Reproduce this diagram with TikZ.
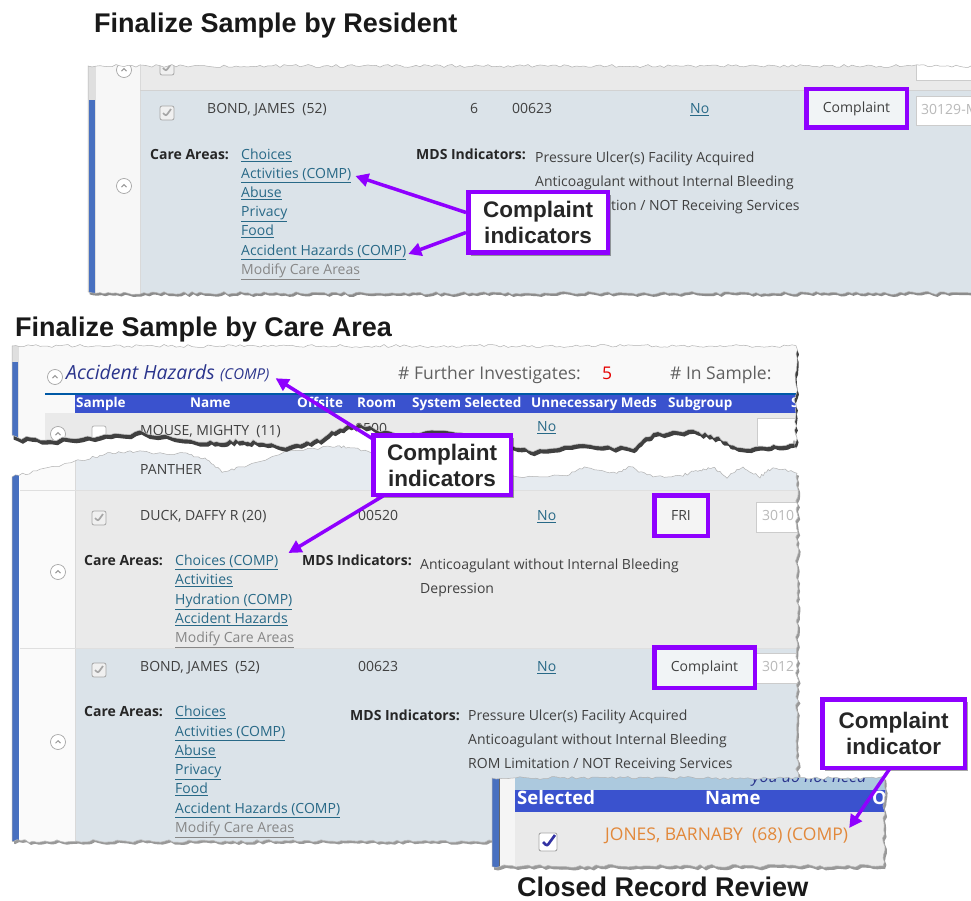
\documentclass[tikz,border=0pt]{standalone}
\usepackage{fontspec}
\newfontfamily\ui{Open Sans}
\newfontfamily\ar{Liberation Sans}
\usetikzlibrary{arrows.meta,shadows,calc}
\definecolor{purp}{RGB}{143,0,255}
\definecolor{linkc}{RGB}{40,105,135}
\definecolor{txtc}{RGB}{64,64,64}
\definecolor{rowblue}{RGB}{219,227,233}
\definecolor{rowgray}{RGB}{234,234,234}
\definecolor{hdrblue}{RGB}{58,82,206}
\definecolor{leftblue}{RGB}{72,112,192}
\definecolor{orng}{RGB}{226,136,58}
\definecolor{navy}{RGB}{42,52,140}
\definecolor{modg}{RGB}{135,135,135}
\definecolor{ltblue}{RGB}{172,201,222}
\tikzset{
 uit/.style={inner sep=0pt, anchor=west, text height=10pt, text depth=3pt, text=txtc, font=\ui\fontsize{14}{16}\selectfont},
 uib/.style={uit, text=black!85, font=\ui\bfseries\fontsize{14}{16}\selectfont},
 uil/.style={uit, text=linkc},
 uim/.style={uit, text=modg},
 uih/.style={uit, text=white, font=\ui\bfseries\fontsize{13.5}{15}\selectfont},
 ttl/.style={inner sep=0pt, anchor=base west, text=black!90, font=\ar\bfseries\fontsize{27}{30}\selectfont},
 cout/.style={draw=purp, line width=4.5pt, fill=white, align=center, inner sep=0pt, font=\ar\bfseries\fontsize{22.5}{26}\selectfont, text=black!85, drop shadow={shadow xshift=3pt, shadow yshift=-3pt, opacity=0.35, fill=black}},
 hlbox/.style={draw=purp, line width=4.5pt, inner sep=0pt, text=txtc, font=\ui\fontsize{14}{16}\selectfont, drop shadow={shadow xshift=2pt, shadow yshift=-2pt, opacity=0.3, fill=black}},
 parrow/.style={draw=purp, line width=3.5pt, -{Triangle[length=13pt,width=13pt]}},
 chk/.style={draw=gray!70, fill=gray!12, rounded corners=2pt, minimum size=14pt, inner sep=0pt, line width=0.8pt,
   path picture={\draw[gray!70, line width=1.7pt] ($(path picture bounding box.center)+(-4,0)$) -- ++(3,3) -- ++(5,-7);}},
 chke/.style={draw=gray!60, fill=white, rounded corners=2pt, minimum size=14pt, inner sep=0pt, line width=0.8pt},
 chkb/.style={draw=gray!70, fill=white, rounded corners=2pt, minimum size=18pt, inner sep=0pt, line width=0.9pt,
   path picture={\draw[blue!55!black!80, line width=2.6pt] ($(path picture bounding box.center)+(-5,0)$) -- ++(4,4) -- ++(8,-11);}},
 icn/.style={circle, draw=gray!70, fill=white, minimum size=15pt, inner sep=0pt, line width=0.7pt,
   path picture={\draw[gray!80, line width=1pt] ($(path picture bounding box.center)+(-2.5,1.2)$) -- ++(2.5,-2.5) -- ++(2.5,2.5);}},
 inb/.style={draw=gray!40, fill=white, inner sep=0pt, anchor=north west},
}
\begin{document}
\begin{tikzpicture}[x=1pt,y=-1pt]
\pgfmathsetseed{4242}
\useasboundingbox (0,0) rectangle (971,901);
\fill[white] (0,0) rectangle (971,901);

% ---------------- titles
\node[ttl] (title1) at (94,33) {Finalize Sample by Resident};
\node[ttl] (title2) at (15,336) {Finalize Sample by Care Area};
\node[ttl] (title3) at (517,896) {Closed Record Review};

% ================= PANEL 1
\path[save path=\pA] (88,66)
  \foreach \i in {1,...,221} { -- ({88+\i*4}, {66+1.5*rand}) }
  -- (972,293)
  \foreach \i in {1,...,221} { -- ({972-\i*4}, {293+1.5*rand}) }
  -- cycle;
\begin{scope}[transform canvas={shift={(1.5pt,-2.5pt)}}]
  \fill[black!45, use path=\pA];
\end{scope}
\begin{scope}
  \clip[use path=\pA];
  \fill[rowgray] (80,50) rectangle (980,90);
  \fill[rowblue] (140,90) rectangle (980,300);
  \fill[gray!6] (95,50) rectangle (140,300);
  \draw[gray!30] (140,50) -- (140,300);
  \fill[gray!25] (88,50) rectangle (96,300);
  \fill[leftblue] (89,100) rectangle (95,300);
  \draw[gray!35] (140,90) -- (980,90);
  \node[icn] (p1i0) at (124,70) {};
  \node[chk] (p1k0) at (167,68) {};
  \node[inb, minimum width=62pt, minimum height=26pt] (p1in0) at (916,54) {};
  \node[icn] (p1i1) at (124,186) {};
  \node[chk] (p1k1) at (167,113) {};
  \node[uit] (p1name) at (207,110) {BOND, JAMES\ \ (52)};
  \node[uit] (p1six) at (470,110) {6};
  \node[uit] (p1room) at (512,110) {00623};
  \node[uil] (p1no) at (690,110) {\underline{No}};
  \node[inb, minimum width=62pt, minimum height=29pt] (p1in1) at (916,96) {};
  \node[uit, text=gray!55] (p1in1t) at (921,111) {30129-M};
  \node[uib] (p1ca) at (150,156) {Care Areas:};
  \node[uil] (p1l1) at (241,156) {\underline{Choices}};
  \node[uil] (p1l2) at (241,175) {\underline{Activities (COMP)}};
  \node[uil] (p1l3) at (241,194) {\underline{Abuse}};
  \node[uil] (p1l4) at (241,213) {\underline{Privacy}};
  \node[uil] (p1l5) at (241,232) {\underline{Food}};
  \node[uil] (p1l6) at (241,252) {\underline{Accident Hazards (COMP)}};
  \node[uim] (p1l7) at (241,271) {\underline{Modify Care Areas}};
  \node[uib] (p1mds) at (416,156) {MDS Indicators:};
  \node[uit] (p1m1) at (535,159) {Pressure Ulcer(s) Facility Acquired};
  \node[uit] (p1m2) at (535,183) {Anticoagulant without Internal Bleeding};
  \node[uit] (p1m3) at (535,207) {ROM Limitation / NOT Receiving Services};
\end{scope}
\draw[gray!60, line width=0.5pt, use path=\pA];
\node[hlbox, fill=rowblue!40!white, minimum width=100.5pt, minimum height=38.5pt] (p1comp) at (856.5,108.5) {Complaint};

\node[cout, minimum width=139.5pt, minimum height=60.5pt] (c1) at (538,222.5) {Complaint\\indicators};
\draw[parrow] ($(c1.west)+(0,-10)$) -- ($(p1l2.east)+(4,1)$);
\draw[parrow] ($(c1.west)+(0,10)$) -- ($(p1l6.east)+(2,2)$);

% ================= PANEL 2b (lower piece)
\path[save path=\pC] (12,477)
  \foreach \px/\py [remember=\px as \qx (initially 12), remember=\py as \qy (initially 477)] in
   {40/470,90/458,110/453,133/452,187/454,205/458,222/472,238/468,293/450,333/447,350/447,380/455,420/465,470/472,517/477,567/475,587/467,617/473,630/467,653/477,683/475,700/470,713/467,727/477,743/467,760/477,773/467,797/473}
   { \foreach \k in {1,...,8} { -- ({\qx+(\px-\qx)*\k/8}, {\qy+(\py-\qy)*\k/8+1.4*rand}) } }
  \foreach \i in {1,...,92} { -- ({797+1.6*rand}, {473+\i*4}) }
  \foreach \i in {1,...,196} { -- ({797-\i*4}, {841+1.5*rand}) }
  -- (12,841) -- cycle;
\begin{scope}[transform canvas={shift={(2pt,-2.5pt)}}]
  \fill[black!40, use path=\pC];
\end{scope}
\begin{scope}
  \clip[use path=\pC];
  \fill[white] (0,430) rectangle (810,850);
  \fill[gray!4] (20,430) rectangle (75,850);
  \fill[rowblue!70!white] (75,430) rectangle (810,490);
  \fill[rowgray] (75,490) rectangle (810,648);
  \fill[rowblue] (75,648) rectangle (810,850);
  \draw[gray!30] (75,430) -- (75,850);
  \draw[gray!25] (20,490) -- (810,490);
  \draw[gray!25] (20,648) -- (810,648);
  \fill[leftblue] (12,430) rectangle (19,850);
  \node[uit] (p2pan) at (140,471) {PANTHER};
  % DUCK row
  \node[chk] (p2k1) at (99,518) {};
  \node[uit] (p2n1) at (140,517) {DUCK, DAFFY R (20)};
  \node[uit] (p2r1) at (358,517) {00520};
  \node[uil] (p2no1) at (537,517) {\underline{No}};
  \node[inb, minimum width=50pt, minimum height=30pt] (p2in1) at (756,502) {};
  \node[uit, text=gray!55] (p2in1t) at (762,517) {3010};
  \node[icn] (p2i1) at (58,572) {};
  \node[uib] (p2ca1) at (84,562) {Care Areas:};
  \node[uil] (p2a1) at (175,562) {\underline{Choices (COMP)}};
  \node[uil] (p2a2) at (175,581) {\underline{Activities}};
  \node[uil] (p2a3) at (175,601) {\underline{Hydration (COMP)}};
  \node[uil] (p2a4) at (175,620) {\underline{Accident Hazards}};
  \node[uim] (p2a5) at (175,639) {\underline{Modify Care Areas}};
  \node[uib] (p2mds1) at (302,562) {MDS Indicators:};
  \node[uit] (p2m1) at (420,566) {Anticoagulant without Internal Bleeding};
  \node[uit] (p2m2) at (420,590) {Depression};
  % BOND row
  \node[chk] (p2k2) at (99,670) {};
  \node[uit] (p2n2) at (140,668) {BOND, JAMES\ \ (52)};
  \node[uit] (p2r2) at (358,668) {00623};
  \node[uil] (p2no2) at (537,668) {\underline{No}};
  \node[inb, minimum width=50pt, minimum height=30pt] (p2in2) at (756,653) {};
  \node[uit, text=gray!55] (p2in2t) at (762,668) {3012};
  \node[icn] (p2i2) at (58,742) {};
  \node[uib] (p2ca2) at (84,713) {Care Areas:};
  \node[uil] (p2b1) at (175,713) {\underline{Choices}};
  \node[uil] (p2b2) at (175,733) {\underline{Activities (COMP)}};
  \node[uil] (p2b3) at (175,752) {\underline{Abuse}};
  \node[uil] (p2b4) at (175,771) {\underline{Privacy}};
  \node[uil] (p2b5) at (175,790) {\underline{Food}};
  \node[uil] (p2b6) at (175,810) {\underline{Accident Hazards (COMP)}};
  \node[uim] (p2b7) at (175,829) {\underline{Modify Care Areas}};
  \node[uib] (p2mds2) at (350,717) {MDS Indicators:};
  \node[uit] (p2m3) at (468,717) {Pressure Ulcer(s) Facility Acquired};
  \node[uit] (p2m4) at (468,741) {Anticoagulant without Internal Bleeding};
  \node[uit] (p2m5) at (468,765) {ROM Limitation / NOT Receiving Services};
\end{scope}
\draw[gray!60, line width=0.5pt, use path=\pC];
\node[hlbox, fill=rowgray!50!white, minimum width=53.5pt, minimum height=40.5pt] (p2fri) at (681,515.5) {FRI};
\node[hlbox, fill=rowblue!40!white, minimum width=100.5pt, minimum height=40.5pt] (p2comp2) at (704.5,667.5) {Complaint};

% ================= PANEL 2a (upper piece)
\path[save path=\pB] (12,346)
  \foreach \i in {1,...,196} { -- ({12+\i*4}, {346+1.5*rand}) }
  \foreach \i in {1,...,24} { -- ({796+1.5*rand}, {346+\i*4}) }
  \foreach \px/\py [remember=\px as \qx (initially 796), remember=\py as \qy (initially 442)] in
   {793/443,767/447,733/447,717/437,693/430,653/433,633/447,583/445,533/450,500/443,450/430,400/435,360/425,340/427,317/440,290/446,253/441,233/440,207/442,140/432,100/436,50/440,12/437}
   { \foreach \k in {1,...,8} { -- ({\qx+(\px-\qx)*\k/8}, {\qy+(\py-\qy)*\k/8+2*rand}) } }
  -- cycle;
\begin{scope}[transform canvas={shift={(1.5pt,-4.5pt)}}]
  \fill[black!75, use path=\pB];
\end{scope}
\begin{scope}
  \clip[use path=\pB];
  \fill[gray!5] (0,330) rectangle (810,460);
  \fill[gray!25] (12,330) rectangle (19,460);
  \fill[leftblue] (12,362) rectangle (18,460);
  \node[icn] (p2hi) at (55,377) {};
  \node[anchor=west, inner sep=0pt, text height=13pt, text depth=4pt, font=\ui\itshape\fontsize{19.5}{22}\selectfont, text=navy] (p2ah) at (66,375) {Accident Hazards};
  \node[anchor=base west, inner sep=0pt, font=\ui\itshape\fontsize{15}{17}\selectfont, text=navy] (p2comp) at ($(p2ah.base east)+(5,0)$) {(COMP)};
  \node[anchor=west, inner sep=0pt, text height=13pt, text depth=4pt, font=\ui\fontsize{17.5}{20}\selectfont, text=gray!75!black] (p2fi) at (398,375) {\# Further Investigates:};
  \node[anchor=west, inner sep=0pt, text height=13pt, text depth=4pt, font=\ui\fontsize{17.5}{20}\selectfont, text=red!90!black] (p2five) at (602,375) {5};
  \node[anchor=west, inner sep=0pt, text height=13pt, text depth=4pt, font=\ui\fontsize{17.5}{20}\selectfont, text=gray!75!black] (p2is) at (670,375) {\# In Sample:};
  \draw[teal!70!blue, line width=1.2pt] (45,394) -- (810,394);
  \fill[hdrblue] (75,395) rectangle (810,413);
  \node[uih] (h1) at (76,404) {Sample};
  \node[uih] (h2) at (190,404) {Name};
  \node[uih] (h3) at (297,404) {Offsite};
  \node[uih] (h4) at (357,404) {Room};
  \node[uih] (h5) at (412,404) {System Selected};
  \node[uih] (h6) at (531,404) {Unnecessary Meds};
  \node[uih] (h7) at (668,404) {Subgroup};
  \node[uih] (h8) at (791,404) {S};
  \fill[rowgray] (45,413) rectangle (810,460);
  \node[icn] (p2i0) at (58,434) {};
  \node[chke] (p2k0) at (99,433) {};
  \node[uit] (p2n0) at (140,432) {MOUSE, MIGHTY\ \ (11)};
  \node[uit] (p2r0) at (355,430) {0500};
  \node[uil] (p2no0) at (537,428) {\underline{No}};
  \node[inb, minimum width=50pt, minimum height=30pt] (p2in0) at (757,418) {};
\end{scope}
\draw[gray!60, line width=0.5pt, use path=\pB];

% ================= PANEL 3
\path[save path=\pD] (492,778)
  \foreach \i in {1,...,98} { -- ({492+\i*4}, {778+1.5*rand}) }
  \foreach \i in {1,...,22} { -- ({884+1.6*rand}, {778+\i*4}) }
  \foreach \i in {1,...,98} { -- ({884-\i*4}, {866+1.5*rand}) }
  -- (492,866) -- cycle;
\begin{scope}[transform canvas={shift={(2pt,-3pt)}}]
  \fill[black!40, use path=\pD];
\end{scope}
\begin{scope}
  \clip[use path=\pD];
  \fill[rowgray] (480,760) rectangle (900,880);
  \fill[leftblue] (492,760) rectangle (499,880);
  \fill[gray!8] (499,760) rectangle (515,880);
  \draw[black!60, line width=0.8pt] (499,770) -- (499,880);
  \fill[ltblue] (515,760) rectangle (900,790);
  \node[anchor=west, inner sep=0pt, font=\ui\itshape\fontsize{16}{18}\selectfont, text=navy] (p3you) at (752,778) {you do not need};
  \fill[hdrblue] (515,790) rectangle (900,812);
  \node[uih, font=\ui\bfseries\fontsize{18.5}{20}\selectfont] (p3h1) at (517,801) {Selected};
  \node[uih, font=\ui\bfseries\fontsize{18.5}{20}\selectfont] (p3h2) at (705,801) {Name};
  \node[uih, font=\ui\bfseries\fontsize{18.5}{20}\selectfont] (p3h3) at (872,801) {Of};
  \node[chkb] (p3k) at (548,842) {};
  \node[uit, text=orng, font=\ui\fontsize{17.5}{20}\selectfont] (p3name) at (605,837) {JONES, BARNABY\ \ (68) (COMP)};
\end{scope}
\draw[gray!60, line width=0.5pt, use path=\pD];

% ================= callouts 2 and 3
\node[cout, minimum width=137.5pt, minimum height=59.5pt] (c2) at (442,465) {Complaint\\indicators};
\draw[parrow] ($(c2.north west)+(2,6)$) -- ($(p2comp.east)+(6,3)$);
\draw[parrow] ($(c2.south west)+(12,-1)$) -- ($(p2a1.east)+(10,-9)$);

\node[cout, minimum width=142.5pt, minimum height=68.5pt] (c3) at (893.5,733.5) {Complaint\\indicator};
\draw[parrow] ($(c3.south)+(-4,-1)$) -- ($(p3name.east)+(1,-9)$);
\end{tikzpicture}
\end{document}
